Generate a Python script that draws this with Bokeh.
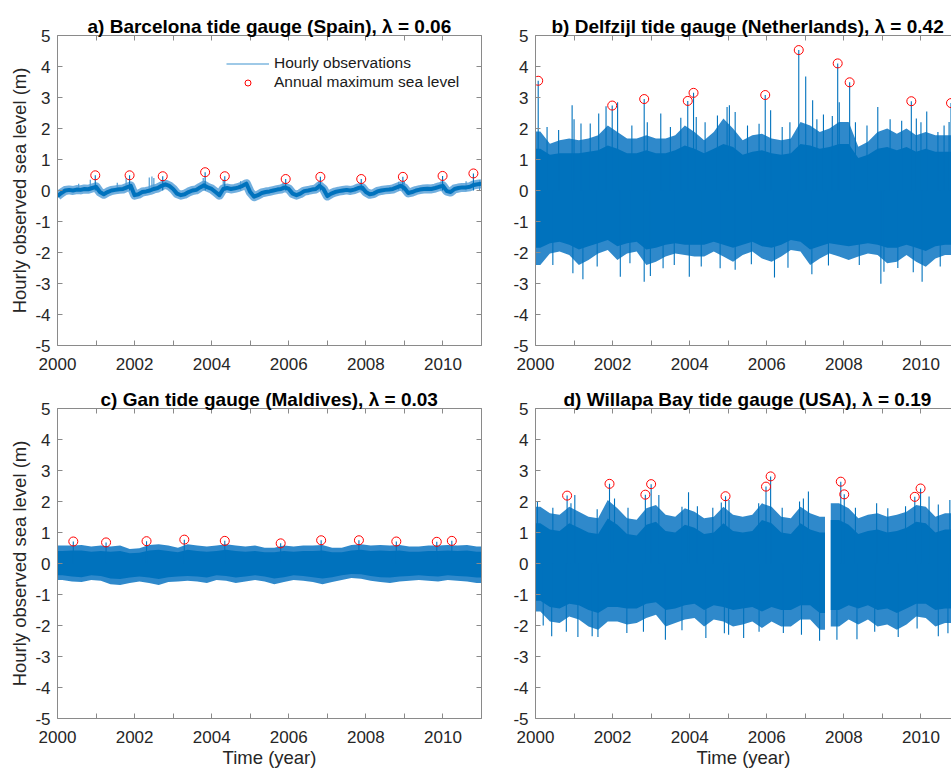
from bokeh.plotting import figure
from bokeh.layouts import column, row
from bokeh.models import Range1d, FixedTicker, LinearAxis, Legend, LegendItem
from bokeh.embed import file_html
from bokeh.resources import INLINE

BLUE = "#0072BD"
FRINGE = "#2f89cb"
RED = "#FF0000"
AX = "#8a8a8a"
TXT = "#262626"
FONT = "Liberation Sans"

# ---------------- tick labels ----------------
year_ticks = list(range(2000, 2012))
year_labels = {y: (str(y) if y % 2 == 0 else "") for y in year_ticks}
level_ticks = list(range(-5, 6))
level_labels = {v: str(v) for v in level_ticks}

titles = [
    "a) Barcelona tide gauge (Spain), λ = 0.06",
    "b) Delfzijl tide gauge (Netherlands), λ = 0.42",
    "c) Gan tide gauge (Maldives), λ = 0.03",
    "d) Willapa Bay tide gauge (USA), λ = 0.19",
]

# ---------------- a) Barcelona: hourly record (0.1-year readings) ----------------
bar_t = [2000.0 + 0.1 * i for i in range(111)]
bar_level = [
    -0.18, -0.08, 0.00, 0.02, 0.00, 0.03, 0.02, 0.05, 0.04, 0.08,   # 2000
    0.12, -0.05, -0.12, -0.05, 0.00, 0.02, 0.04, 0.05, 0.10, 0.15,  # 2001
    -0.15, -0.12, -0.05, -0.03, 0.00, 0.05, 0.08, 0.15, 0.20, 0.15, # 2002
    0.05, -0.10, -0.15, -0.12, -0.05, 0.00, 0.02, 0.10, 0.17, 0.10, # 2003
    0.05, -0.05, -0.15, 0.05, 0.08, 0.05, 0.07, 0.10, 0.15, 0.22,   # 2004
    -0.05, -0.20, -0.15, -0.08, -0.05, -0.03, 0.00, 0.03, 0.05, 0.10, # 2005
    0.05, -0.10, -0.15, -0.10, -0.02, 0.00, 0.03, 0.05, 0.15, 0.05, # 2006
    -0.18, -0.10, -0.05, -0.02, 0.00, 0.02, 0.00, 0.03, 0.08, 0.10, # 2007
    -0.05, -0.12, -0.10, -0.03, 0.00, 0.02, 0.03, 0.05, 0.10, 0.15, # 2008
    0.08, -0.08, -0.05, 0.00, 0.03, 0.05, 0.06, 0.05, 0.08, 0.12,   # 2009
    0.15, -0.02, -0.05, 0.05, 0.08, 0.10, 0.10, 0.12, 0.18, 0.20,   # 2010
    0.22,
]
bar_spike_t = [2000.85, 2001.78, 2002.38, 2002.45, 2002.50, 2003.78, 2004.30, 2006.78, 2009.00, 2010.95,
               2000.55, 2001.55, 2004.75, 2005.85, 2007.85, 2008.85, 2009.95, 2010.60]
bar_spike_v = [0.35, 0.40, 0.42, 0.45, 0.40, 0.40, 0.35, 0.30, 0.30, 0.33,
               0.22, 0.25, 0.30, 0.25, 0.25, 0.28, 0.30, 0.30]
bar_max_t = [2000.98, 2001.87, 2002.73, 2003.83, 2004.34, 2005.92, 2006.82, 2007.88, 2008.96, 2009.99, 2010.79]
bar_max_v = [0.49, 0.49, 0.46, 0.59, 0.46, 0.37, 0.44, 0.37, 0.44, 0.47, 0.55]

# ---------------- quarter-year envelope readings ----------------
q_centres = [2000.125 + 0.25 * k for k in range(44)]

# b) Delfzijl: outer (sparse) envelope and dense core
del_hi = [1.90, 1.51, 1.62, 1.68, 1.62, 1.68, 1.78, 2.10, 1.89, 1.68, 1.68, 1.78,
          1.68, 1.68, 1.78, 2.10, 1.89, 1.62, 1.89, 2.32, 2.00, 1.62, 1.78, 1.83,
          1.68, 1.62, 1.68, 2.21, 2.10, 1.89, 2.00, 2.21, 2.21, 1.41, 1.57, 1.89,
          2.00, 1.83, 2.00, 1.78, 1.89, 1.78, 1.78, 1.78]
del_lo = [-2.40, -2.03, -1.97, -2.08, -2.40, -2.24, -2.03, -1.92, -2.24, -2.03, -1.97, -2.40,
          -2.30, -2.13, -2.03, -2.08, -2.13, -2.13, -1.97, -2.13, -2.30, -2.08, -1.97, -2.19,
          -2.30, -2.13, -1.92, -1.97, -2.40, -2.19, -2.03, -2.13, -2.24, -2.13, -2.03, -2.08,
          -2.35, -2.30, -2.08, -2.30, -2.46, -2.19, -2.08, -2.08]
del_core_hi = [1.35, 1.15, 1.20, 1.20, 1.20, 1.25, 1.30, 1.45, 1.35, 1.20, 1.20, 1.30,
               1.20, 1.20, 1.30, 1.45, 1.35, 1.20, 1.35, 1.50, 1.40, 1.15, 1.25, 1.30,
               1.20, 1.15, 1.20, 1.50, 1.45, 1.35, 1.40, 1.50, 1.50, 1.05, 1.15, 1.35,
               1.40, 1.30, 1.40, 1.25, 1.35, 1.25, 1.25, 1.25]
del_core_lo = [-1.85, -1.70, -1.65, -1.75, -1.90, -1.80, -1.70, -1.60, -1.80, -1.70, -1.65, -1.90,
               -1.85, -1.75, -1.70, -1.75, -1.75, -1.75, -1.65, -1.75, -1.85, -1.75, -1.65, -1.80,
               -1.85, -1.75, -1.60, -1.65, -1.90, -1.80, -1.70, -1.75, -1.80, -1.75, -1.70, -1.75,
               -1.85, -1.85, -1.75, -1.85, -1.95, -1.80, -1.75, -1.75]
del_up_t = [2000.95, 2001.18, 2001.42, 2001.64, 2001.83, 2002.13, 2003.25, 2003.77, 2004.17,
            2004.72, 2004.97, 2005.03, 2005.18, 2006.10, 2007.01, 2007.19, 2007.47, 2007.88,
            2008.88, 2009.88, 2010.15, 2010.44, 2010.73, 2000.30, 2000.60, 2001.00, 2002.50,
            2002.90, 2003.50, 2004.40, 2005.50, 2005.80, 2006.40, 2006.60, 2007.30, 2007.70,
            2008.30, 2008.60, 2009.20, 2009.50, 2010.00, 2010.60]
del_up_v = [2.75, 2.16, 2.16, 2.48, 2.72, 2.85, 2.48, 2.35, 2.37,
            2.42, 2.69, 2.75, 2.53, 2.59, 3.68, 2.91, 2.45, 2.85,
            2.69, 2.32, 2.55, 1.89, 2.21, 2.05, 1.95, 2.30, 2.10,
            2.20, 2.05, 2.20, 2.10, 2.15, 2.05, 2.20, 2.30, 2.40,
            2.20, 2.10, 2.30, 2.25, 2.20, 2.10]
del_dn_t = [2001.23, 2002.20, 2002.82, 2002.98, 2003.99, 2006.20, 2007.17, 2008.96, 2010.03,
            2000.97, 2003.31, 2004.79, 2005.18, 2009.04, 2009.80, 2006.55,
            2000.45, 2001.60, 2002.45, 2003.60, 2004.30, 2005.60, 2007.60, 2008.40, 2009.40, 2010.50]
del_dn_v = [-2.86, -2.78, -2.94, -2.76, -2.78, -2.81, -2.70, -3.01, -2.94,
            -2.67, -2.51, -2.51, -2.56, -2.62, -2.64, -2.49,
            -2.40, -2.45, -2.35, -2.40, -2.45, -2.38, -2.42, -2.40, -2.50, -2.45]
del_max_t = [2000.07, 2001.99, 2002.82, 2003.95, 2004.10, 2005.96, 2006.83, 2007.84, 2008.15, 2009.75, 2010.78]
del_max_v = [3.54, 2.74, 2.95, 2.89, 3.15, 3.08, 4.53, 4.10, 3.49, 2.88, 2.82]

# c) Gan
gan_hi = [0.58, 0.58, 0.60, 0.55, 0.58, 0.55, 0.58, 0.47, 0.49, 0.60, 0.62, 0.58,
          0.51, 0.62, 0.58, 0.55, 0.58, 0.62, 0.58, 0.55, 0.58, 0.51, 0.51, 0.58,
          0.55, 0.58, 0.58, 0.60, 0.51, 0.51, 0.60, 0.62, 0.58, 0.60, 0.58, 0.60,
          0.55, 0.55, 0.58, 0.58, 0.60, 0.58, 0.60, 0.55]
gan_lo = [-0.53, -0.58, -0.60, -0.53, -0.56, -0.67, -0.69, -0.63, -0.58, -0.63, -0.69, -0.60,
          -0.58, -0.56, -0.58, -0.63, -0.53, -0.56, -0.63, -0.58, -0.53, -0.58, -0.67, -0.60,
          -0.53, -0.56, -0.60, -0.67, -0.60, -0.53, -0.47, -0.49, -0.56, -0.60, -0.63, -0.58,
          -0.56, -0.53, -0.56, -0.58, -0.53, -0.56, -0.58, -0.63]
gan_core_hi = [0.40, 0.42, 0.42, 0.38, 0.40, 0.38, 0.40, 0.33, 0.35, 0.42, 0.44, 0.40,
               0.36, 0.44, 0.40, 0.38, 0.40, 0.44, 0.40, 0.38, 0.40, 0.36, 0.36, 0.40,
               0.38, 0.40, 0.40, 0.42, 0.36, 0.36, 0.42, 0.44, 0.40, 0.42, 0.40, 0.42,
               0.38, 0.38, 0.40, 0.40, 0.42, 0.40, 0.42, 0.38]
gan_core_lo = [-0.38, -0.42, -0.44, -0.38, -0.40, -0.48, -0.50, -0.45, -0.42, -0.45, -0.50, -0.44,
               -0.42, -0.40, -0.42, -0.45, -0.38, -0.40, -0.45, -0.42, -0.38, -0.42, -0.48, -0.44,
               -0.38, -0.40, -0.44, -0.48, -0.44, -0.38, -0.34, -0.35, -0.40, -0.44, -0.45, -0.42,
               -0.40, -0.38, -0.40, -0.42, -0.38, -0.40, -0.42, -0.45]
gan_max_t = [2000.41, 2001.26, 2002.31, 2003.29, 2004.34, 2005.79, 2006.84, 2007.82, 2008.79, 2009.84, 2010.23]
gan_max_v = [0.71, 0.68, 0.72, 0.77, 0.73, 0.65, 0.75, 0.75, 0.71, 0.70, 0.73]

# d) Willapa Bay (record interrupted 2007.51 - 2007.66)
wil_gap = [2007.51, 2007.66]
wil_hi_1 = [1.83, 1.62, 1.57, 1.83, 1.67, 1.51, 1.46, 2.05, 1.78, 1.46, 1.41, 1.78, 1.89, 1.57, 1.51,
            1.78, 1.67, 1.46, 1.51, 1.83, 1.57, 1.51, 1.57, 1.94, 1.83, 1.51, 1.46, 1.83, 1.62, 1.51]
wil_lo_1 = [-1.55, -1.87, -1.92, -1.71, -1.81, -2.03, -2.14, -1.87, -1.87, -1.97, -1.92, -1.76, -1.65, -2.03, -1.92,
            -1.81, -1.76, -2.03, -1.81, -1.87, -2.03, -1.97, -1.87, -2.08, -1.87, -2.03, -2.03, -1.81, -1.81, -2.14]
wil_core_hi_1 = [1.30, 1.10, 1.05, 1.30, 1.15, 1.00, 0.95, 1.45, 1.25, 0.95, 0.90, 1.25, 1.35, 1.05, 1.00,
                 1.25, 1.15, 0.95, 1.00, 1.30, 1.05, 1.00, 1.05, 1.40, 1.30, 1.00, 0.95, 1.30, 1.10, 1.00]
wil_core_lo_1 = [-1.20, -1.40, -1.45, -1.30, -1.35, -1.50, -1.60, -1.40, -1.40, -1.45, -1.45, -1.30, -1.25, -1.50, -1.45,
                 -1.35, -1.30, -1.50, -1.35, -1.40, -1.50, -1.45, -1.40, -1.55, -1.40, -1.50, -1.50, -1.35, -1.35, -1.60]
wil_hi_2 = [1.94, 1.78, 1.46, 1.57, 1.62, 1.51, 1.57, 1.67, 1.89, 1.83, 1.51, 1.62, 1.62]
wil_lo_2 = [-2.03, -1.81, -1.97, -1.81, -2.03, -1.97, -2.14, -1.97, -1.71, -1.76, -2.03, -1.92, -1.92]
wil_core_hi_2 = [1.40, 1.25, 0.95, 1.05, 1.10, 1.00, 1.05, 1.15, 1.35, 1.30, 1.00, 1.10, 1.10]
wil_core_lo_2 = [-1.50, -1.35, -1.45, -1.35, -1.50, -1.45, -1.60, -1.45, -1.30, -1.30, -1.50, -1.45, -1.45]
wil_up_t = [2001.02, 2000.92, 2002.05, 2003.97, 2003.80, 2004.82, 2005.02, 2007.08, 2006.85,
            2008.85, 2010.21, 2010.75, 2009.14, 2003.20, 2005.79,
            2000.05, 2000.45, 2001.60, 2002.40, 2004.20, 2004.60, 2006.40, 2006.95, 2008.30, 2009.60, 2010.45]
wil_up_v = [2.21, 1.94, 2.10, 2.30, 1.83, 1.97, 2.05, 2.32, 2.00, 1.94, 2.16, 2.05, 1.78, 2.21, 1.94,
            2.00, 1.80, 1.75, 1.80, 1.85, 1.80, 1.80, 2.10, 1.80, 1.85, 1.90]
wil_dn_t = [2000.42, 2001.10, 2001.47, 2001.62, 2003.37, 2004.42, 2005.40, 2006.43, 2007.37,
            2007.82, 2008.34, 2009.41, 2010.45, 2002.37, 2005.01,
            2000.20, 2000.80, 2002.80, 2003.80, 2004.90, 2005.80, 2006.90, 2008.80, 2009.90, 2010.70]
wil_dn_v = [-2.35, -2.37, -2.35, -2.37, -2.46, -2.40, -2.40, -2.24, -2.49,
            -2.46, -2.44, -2.37, -2.35, -2.24, -2.30,
            -2.00, -2.20, -2.20, -2.15, -2.25, -2.20, -2.30, -2.20, -2.10, -2.25]
wil_max_t = [2000.82, 2001.92, 2002.85, 2003.00, 2004.93, 2005.98, 2006.10, 2007.92, 2008.01, 2009.84, 2009.99]
wil_max_v = [2.19, 2.57, 2.22, 2.56, 2.17, 2.48, 2.81, 2.64, 2.23, 2.15, 2.42]


def mk_axis(ticks, labels, show, axis_label=None, lab_standoff=7):
    ax = LinearAxis(ticker=FixedTicker(ticks=ticks), major_label_overrides=labels)
    ax.axis_line_color = AX
    ax.axis_line_width = 1
    ax.major_tick_line_color = AX
    ax.minor_tick_line_color = None
    ax.major_tick_in = 5
    ax.major_tick_out = 0
    if show:
        ax.major_label_text_font = FONT
        ax.major_label_text_font_size = "17px"
        ax.major_label_text_color = TXT
        ax.major_label_standoff = lab_standoff
    else:
        ax.major_label_text_font_size = "1px"
        ax.major_label_text_color = None
        ax.major_label_standoff = 0
    if axis_label:
        ax.axis_label = axis_label
        ax.axis_label_text_font = FONT
        ax.axis_label_text_font_size = "18.5px"
        ax.axis_label_text_font_style = "normal"
        ax.axis_label_text_color = TXT
    return ax


def make_panel(title, left_col, bottom_row, title_offset):
    fw = 424 if left_col else 416
    x_end = 2011.0 if left_col else 2000.0 + 416 / (424 / 11.0)
    p = figure(
        frame_width=fw, frame_height=310,
        min_border_left=57 if left_col else 46,
        min_border_right=8 if left_col else 0,
        min_border_top=35,
        min_border_bottom=51 if bottom_row else 28,
        x_range=Range1d(2000, x_end), y_range=Range1d(-5, 5),
        x_axis_type=None, y_axis_type=None,
        toolbar_location=None, tools="", output_backend="svg",
        title=title,
    )
    p.outline_line_color = None
    p.background_fill_color = "white"
    p.border_fill_color = "white"
    p.title.text_font = FONT
    p.title.text_font_size = "19px"
    p.title.text_font_style = "bold"
    p.title.text_color = "#000000"
    p.title.align = "left"
    p.title.offset = title_offset
    p.title.standoff = -2

    ylab = "Hourly observed sea level (m)" if left_col else None
    xlab = "Time (year)" if bottom_row else None
    yl = mk_axis(level_ticks, level_labels, True, ylab, lab_standoff=7)
    yl.axis_label_standoff = 2
    p.add_layout(yl, "left")
    xb = mk_axis(year_ticks, year_labels, True, xlab, lab_standoff=12)
    xb.axis_label_standoff = 1
    p.add_layout(xb, "below")
    p.add_layout(mk_axis(year_ticks, year_labels, False), "above")
    if left_col:
        p.add_layout(mk_axis(level_ticks, level_labels, False), "right")
    return p


def with_edges(vals):
    return [vals[0]] + list(vals) + [vals[-1]]


def draw_band(p, t, lo, hi, core_lo, core_hi):
    p.varea(x=t, y1=with_edges(lo), y2=with_edges(hi), fill_color=FRINGE)
    p.varea(x=t, y1=with_edges(core_lo), y2=with_edges(core_hi), fill_color=BLUE)


def draw_spikes(p, t, v, color=BLUE, width=1.1):
    return p.segment(x0=t, y0=[0.0] * len(t), x1=t, y1=v, line_color=color, line_width=width)


def draw_max(p, t, v):
    draw_spikes(p, t, v)
    return p.scatter(t, v, marker="circle", size=9, fill_color=None, line_color=RED, line_width=1)


q_t = [2000.0] + q_centres + [2011.0]

# ---- a ----
pa = make_panel(titles[0], True, False, 30)
r_leg = draw_spikes(pa, bar_spike_t, bar_spike_v, color="#3f93cf", width=1.1)
pa.line(bar_t, bar_level, line_color="#4f9bd6", line_width=9, line_join="round", line_alpha=0.8)
pa.line(bar_t, bar_level, line_color=BLUE, line_width=4, line_join="round")
r_max = draw_max(pa, bar_max_t, bar_max_v)
legend = Legend(items=[LegendItem(label="Hourly observations", renderers=[r_leg]),
                       LegendItem(label="Annual maximum sea level", renderers=[r_max])],
                location=(169, 254))
legend.border_line_color = None
legend.background_fill_alpha = 0
legend.padding = 0
legend.margin = 0
legend.spacing = 1
legend.glyph_width = 43
legend.glyph_height = 15
legend.label_height = 15
legend.label_standoff = 5
legend.label_text_font = FONT
legend.label_text_font_size = "15.5px"
legend.label_text_color = "#1a1a1a"
pa.add_layout(legend)

# ---- b ----
pb = make_panel(titles[1], False, False, 16)
draw_band(pb, q_t, del_lo, del_hi, del_core_lo, del_core_hi)
draw_spikes(pb, del_up_t, del_up_v)
draw_spikes(pb, del_dn_t, del_dn_v)
draw_max(pb, del_max_t, del_max_v)

# ---- c ----
pc = make_panel(titles[2], True, True, 43)
draw_band(pc, q_t, gan_lo, gan_hi, gan_core_lo, gan_core_hi)
draw_max(pc, gan_max_t, gan_max_v)

# ---- d ----
pd_ = make_panel(titles[3], False, True, 28)
wil_t1 = [2000.0] + q_centres[:30] + [wil_gap[0]]
wil_t2 = [wil_gap[1]] + q_centres[31:] + [2011.0]
draw_band(pd_, wil_t1, wil_lo_1, wil_hi_1, wil_core_lo_1, wil_core_hi_1)
draw_band(pd_, wil_t2, wil_lo_2, wil_hi_2, wil_core_lo_2, wil_core_hi_2)
draw_spikes(pd_, wil_up_t, wil_up_v)
draw_spikes(pd_, wil_dn_t, wil_dn_v)
draw_max(pd_, wil_max_t, wil_max_v)

layout = column(row(pa, pb), row(pc, pd_))
open("out.html", "w").write(file_html(layout, INLINE))
